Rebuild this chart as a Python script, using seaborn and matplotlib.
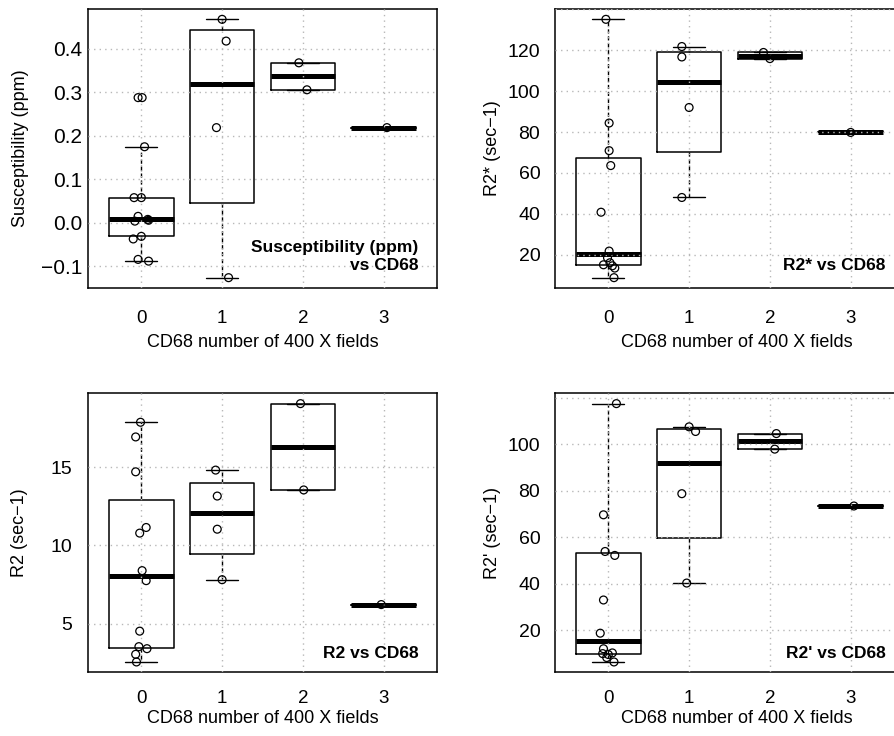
import numpy as np
import pandas as pd
import matplotlib
matplotlib.use("Agg")
import matplotlib.pyplot as plt
import seaborn as sns

# CD68 groups (number of 400X fields)
groups = [0, 1, 2, 3]
xlabel = "CD68 number of 400 X fields"

# values per group
susc_values = [[0.288, 0.288, 0.175, 0.058, 0.058, 0.015, 0.004, 0.006, 0.008, -0.031, -0.037, -0.084, -0.088],
               [0.468, 0.418, 0.219, -0.126],
               [0.368, 0.306],
               [0.219]]
r2star_values = [[135.1, 84.4, 70.9, 63.6, 40.8, 21.8, 18.5, 16.1, 15.1, 14.6, 13.5, 8.8],
                 [121.8, 116.7, 92.0, 48.0],
                 [118.9, 115.9],
                 [79.8]]
r2_values = [[17.88, 16.94, 14.71, 11.15, 10.79, 8.39, 7.75, 4.52, 3.53, 3.40, 3.04, 2.55],
             [14.82, 13.16, 11.04, 7.81],
             [19.07, 13.55],
             [6.22]]
r2prime_values = [[117.6, 69.7, 53.9, 52.2, 33.0, 18.7, 12.0, 10.2, 9.9, 9.5, 8.2, 6.3],
                  [107.6, 105.6, 78.8, 40.3],
                  [104.7, 98.0],
                  [73.5]]

# horizontal jitter of each point (as drawn in the original)
susc_jitter = [[-0.04, 0.01, 0.04, -0.09, 0.0, -0.04, -0.08, 0.09, 0.08, 0.0, -0.10, -0.04, 0.09],
               [0.0, 0.05, -0.07, 0.08], [-0.05, 0.05], [0.04]]
r2star_jitter = [[-0.03, 0.01, 0.01, 0.03, -0.09, 0.01, -0.01, 0.02, -0.06, 0.05, 0.08, 0.07],
                 [-0.09, -0.09, 0.0, -0.09], [-0.08, 0.0], [0.0]]
r2_jitter = [[-0.01, -0.07, -0.07, 0.06, -0.02, 0.01, 0.06, -0.02, -0.03, 0.07, -0.07, -0.06],
             [-0.08, -0.06, -0.06, 0.0], [-0.03, 0.01], [-0.03]]
r2prime_jitter = [[0.10, -0.06, -0.04, 0.08, -0.06, -0.10, -0.06, 0.05, -0.07, 0.0, -0.02, 0.07],
                  [0.0, 0.08, -0.09, -0.03], [0.08, 0.06], [0.04]]

# axis ticks
susc_ticks = [-0.1, 0.0, 0.1, 0.2, 0.3, 0.4]
susc_ticklabels = ["\u22120.1", "0.0", "0.1", "0.2", "0.3", "0.4"]
r2star_ticks = [20, 40, 60, 80, 100, 120, 140]
r2star_ticklabels = ["20", "40", "60", "80", "100", "120", ""]
r2_ticks = [5, 10, 15]
r2_ticklabels = ["5", "10", "15"]
r2prime_ticks = [20, 40, 60, 80, 100, 120]
r2prime_ticklabels = ["20", "40", "60", "80", "100", ""]


def tukey_stats(vals):
    # R style fivenum hinges + 1.5 IQR whiskers
    v = np.sort(np.asarray(vals, dtype=float))
    n = len(v)
    n4 = np.floor((n + 3) / 2) / 2
    d = [1, n4, (n + 1) / 2, n + 1 - n4, n]
    q = [0.5 * (v[int(np.floor(k)) - 1] + v[int(np.ceil(k)) - 1]) for k in d]
    iqr = q[3] - q[1]
    lo = v[v >= q[1] - 1.5 * iqr].min()
    hi = v[v <= q[3] + 1.5 * iqr].max()
    return dict(med=q[2], q1=q[1], q3=q[3], whislo=lo, whishi=hi)


sns.set_style("white")
plt.rcParams["font.family"] = ["Liberation Sans", "DejaVu Sans"]
plt.rcParams.update({"text.color": "black", "axes.labelcolor": "black",
                     "xtick.color": "black", "ytick.color": "black"})

fig = plt.figure(figsize=(8.94, 7.36), dpi=100)

panels = [
    (susc_values, susc_jitter, "Susceptibility (ppm)", "Susceptibility (ppm)\nvs CD68", susc_ticks, susc_ticklabels),
    (r2star_values, r2star_jitter, "R2* (sec\u22121)", "R2* vs CD68", r2star_ticks, r2star_ticklabels),
    (r2_values, r2_jitter, "R2 (sec\u22121)", "R2 vs CD68", r2_ticks, r2_ticklabels),
    (r2prime_values, r2prime_jitter, "R2' (sec\u22121)", "R2' vs CD68", r2prime_ticks, r2prime_ticklabels),
]
# left, bottom of each axes (fig fraction), y tick length / pad / size, label offsets
W, H = 349 / 894, 279 / 736
layout = [
    dict(pos=(88 / 894, 1 - 288 / 736), ytl=0, ypad=4.3, ysize=15, ylab=-0.192, xlab=(0.5, -0.195), xpad=7.2, ty=0.066),
    dict(pos=(555 / 894, 1 - 288 / 736), ytl=8.6, ypad=2.0, ysize=14, ylab=-0.178, xlab=(0.521, -0.195), xpad=7.2, ty=0.066),
    dict(pos=(88 / 894, 1 - 672.3 / 736), ytl=0, ypad=11.5, ysize=14, ylab=-0.195, xlab=(0.5, -0.166), xpad=4.5, ty=0.052),
    dict(pos=(555 / 894, 1 - 672.3 / 736), ytl=8.6, ypad=2.0, ysize=14, ylab=-0.178, xlab=(0.521, -0.166), xpad=4.5, ty=0.052),
]

for (values, jitter, ylabel, title, yticks, yticklabels), lay in zip(panels, layout):
    ax = fig.add_axes([lay["pos"][0], lay["pos"][1], W, H])

    stats = [tukey_stats(v) for v in values]
    ax.bxp(stats, positions=groups, widths=0.8, showfliers=False, manage_ticks=False,
           boxprops=dict(color="black", linewidth=1.1),
           whiskerprops=dict(color="black", linewidth=1.0, linestyle=(0, (3, 2))),
           capprops=dict(color="black", linewidth=1.0),
           medianprops=dict(color="black", linewidth=3.6, solid_capstyle="butt"))

    df = pd.DataFrame({
        "x": [g + j for g, jits in zip(groups, jitter) for j in jits],
        "y": [y for vals in values for y in vals],
    })
    sns.scatterplot(data=df, x="x", y="y", ax=ax, marker="o", s=32,
                    facecolors="none", edgecolor="black", linewidth=0.9, zorder=3)

    allv = np.concatenate([np.asarray(v, dtype=float) for v in values])
    rng = allv.max() - allv.min()
    ax.set_ylim(allv.min() - 0.04 * rng, allv.max() + 0.04 * rng)
    ax.set_xlim(-0.66, 3.66)

    ax.set_xticks(groups)
    ax.set_xticklabels([str(g) for g in groups])
    ax.set_yticks(yticks)
    ax.set_yticklabels(yticklabels)

    ax.set_axisbelow(False)
    ax.grid(True, color="#b8b8b8", linestyle=(0, (1, 3)), linewidth=1.0)

    ax.tick_params(axis="x", length=8.6, width=1.0, pad=lay["xpad"], labelsize=13.5, color="black")
    ax.tick_params(axis="y", length=lay["ytl"], width=1.0, pad=lay["ypad"], labelsize=lay["ysize"], color="black")
    for sp in ax.spines.values():
        sp.set_color("black")
        sp.set_linewidth(1.1)

    ax.set_xlabel(xlabel, fontsize=13)
    ax.set_ylabel(ylabel, fontsize=13)
    ax.xaxis.set_label_coords(*lay["xlab"])
    ax.yaxis.set_label_coords(lay["ylab"], 0.5)
    ax.xaxis.label.set_va("center")
    ax.yaxis.label.set_va("center")

    ax.text(3.43, lay["ty"], title, transform=ax.get_xaxis_transform(), ha="right", va="baseline",
            fontsize=12.5, fontweight="bold", linespacing=1.25, color="black")

fig.savefig("out.png", dpi=100)
